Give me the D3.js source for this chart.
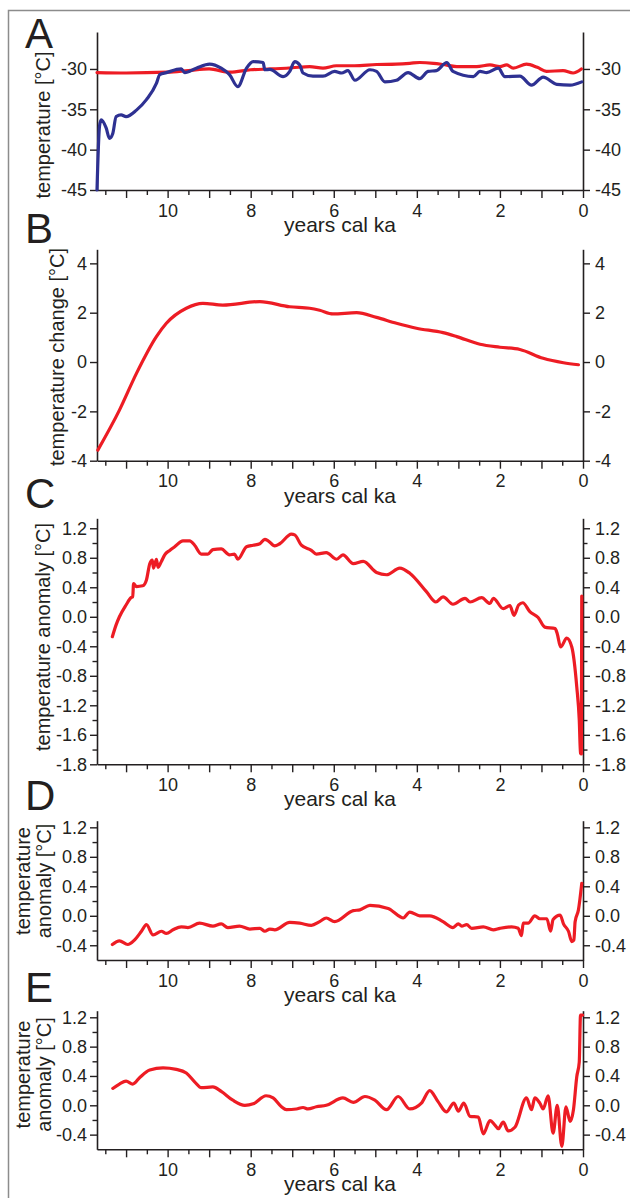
<!DOCTYPE html>
<html>
<head>
<meta charset="utf-8">
<script src="https://cdn.jsdelivr.net/npm/d3@7"></script>
<style>
  html, body { margin: 0; padding: 0; background: #fff; }
  svg { display: block; font-family: "Liberation Sans", Arial, sans-serif; }
</style>
</head>
<body>
<svg id="chart" width="630" height="1198"></svg>
<script>
// ---------- data (years cal ka, value) ----------
const xDomain = [11.7, 0];
const xMajorTicks = [11, 10, 9, 8, 7, 6, 5, 4, 3, 2, 1, 0];
const xMinorTicks = [11.5, 10.5, 9.5, 8.5, 7.5, 6.5, 5.5, 4.5, 3.5, 2.5, 1.5, 0.5];
const xLabelTicks = [10, 8, 6, 4, 2, 0];
const xTitle = "years cal ka";

// Panel A: temperature [°C]
const aRed = [[11.7,-30.45],[11.0,-30.5],[10.0,-30.4],[9.5,-30.2],[9.0,-30.0],[8.5,-30.4],[8.0,-30.1],[7.5,-30.0],[7.0,-29.85],[6.58,-29.7],[6.26,-29.9],[5.94,-29.6],[5.5,-29.6],[4.97,-29.45],[4.5,-29.4],[4.17,-29.3],[3.93,-29.2],[3.6,-29.3],[3.37,-29.45],[3.04,-29.7],[2.56,-29.7],[2.24,-29.5],[2.0,-29.7],[1.84,-29.5],[1.68,-29.9],[1.36,-29.4],[1.1,-29.8],[0.88,-30.3],[0.48,-30.2],[0.24,-30.5],[0.04,-30.0]];
const aBlue = [[11.7,-45],[11.64,-37.1],[11.6,-36.3],[11.48,-37.3],[11.4,-38.6],[11.32,-38.0],[11.24,-35.9],[11.12,-35.7],[11.0,-35.9],[10.75,-35.1],[10.51,-33.8],[10.27,-31.8],[10.19,-30.7],[10.03,-30.45],[9.67,-30.0],[9.59,-30.45],[9.31,-29.9],[8.99,-29.4],[8.71,-29.9],[8.51,-30.7],[8.31,-32.2],[8.1,-29.9],[7.94,-29.1],[7.70,-29.2],[7.66,-30.1],[7.54,-30.05],[7.22,-30.95],[7.06,-30.3],[6.94,-29.1],[6.82,-29.5],[6.74,-30.5],[6.5,-30.9],[6.26,-30.9],[5.98,-30.3],[5.81,-30.5],[5.66,-30.2],[5.49,-31.4],[5.13,-30.1],[4.97,-30.3],[4.77,-31.6],[4.49,-31.4],[4.21,-30.45],[3.93,-31.2],[3.73,-30.3],[3.53,-30.2],[3.28,-29.2],[3.13,-30.3],[2.64,-30.95],[2.48,-30.3],[2.32,-30.45],[2.04,-29.9],[1.88,-30.95],[1.52,-30.9],[1.24,-32.0],[0.96,-31.0],[0.63,-31.9],[0.31,-32.0],[0.03,-31.6]];
const aTicks = [-45, -40, -35, -30];

// Panel B: temperature change [°C]
const bRed = [[11.68,-3.57],[11.16,-1.95],[10.75,-0.46],[10.27,1.03],[10.03,1.57],[9.55,2.18],[9.15,2.38],[8.67,2.31],[7.78,2.45],[7.06,2.24],[6.58,2.18],[6.34,2.1],[6.02,1.95],[5.45,2.0],[4.97,1.81],[4.49,1.57],[4.01,1.37],[3.37,1.19],[3.04,1.03],[2.48,0.72],[2.0,0.6],[1.52,0.51],[0.96,0.15],[0.47,-0.03],[0.11,-0.11]];
const bTicks = [-4, -2, 0, 2, 4];

// Panel C: temperature anomaly [°C]
const cRed = [[11.33,-0.27],[11.24,-0.11],[11.16,0.0],[11.0,0.16],[10.88,0.26],[10.84,0.27],[10.82,0.45],[10.75,0.41],[10.6,0.42],[10.51,0.5],[10.43,0.72],[10.37,0.77],[10.34,0.66],[10.27,0.78],[10.23,0.67],[10.15,0.75],[10.07,0.84],[9.95,0.9],[9.83,0.95],[9.63,1.03],[9.47,1.03],[9.35,0.97],[9.19,0.85],[9.03,0.85],[8.91,0.91],[8.71,0.92],[8.51,0.84],[8.39,0.85],[8.31,0.78],[8.1,0.95],[7.94,0.97],[7.78,0.99],[7.66,1.05],[7.58,1.03],[7.42,0.96],[7.30,0.99],[7.02,1.12],[6.94,1.11],[6.78,0.97],[6.54,0.9],[6.42,0.85],[6.18,0.87],[5.93,0.78],[5.78,0.84],[5.53,0.72],[5.29,0.75],[4.97,0.6],[4.73,0.57],[4.41,0.66],[4.17,0.59],[3.77,0.34],[3.54,0.2],[3.37,0.27],[3.13,0.17],[2.84,0.25],[2.72,0.2],[2.44,0.26],[2.24,0.18],[2.16,0.25],[1.92,0.11],[1.76,0.15],[1.66,0.02],[1.55,0.16],[1.45,0.19],[1.28,0.07],[1.08,-0.01],[0.92,-0.14],[0.67,-0.16],[0.62,-0.23],[0.54,-0.41],[0.39,-0.29],[0.27,-0.41],[0.15,-0.95],[0.09,-1.4],[0.06,-1.85],[0.04,-1.86],[0.03,0.28]];
const cTicks = [1.2, 0.8, 0.4, 0.0, -0.4, -0.8, -1.2, -1.6, -2.0];
const cTickLabels = ["1.2", "0.8", "0.4", "0.0", "-0.4", "-0.8", "-1.2", "-1.6", "-1.8"];
const cMinor = [1.0, 0.6, 0.2, -0.2, -0.6, -1.0, -1.4, -1.8];

// Panel D: temperature anomaly [°C]
const dRed = [[11.33,-0.39],[11.16,-0.34],[10.96,-0.39],[10.8,-0.33],[10.63,-0.21],[10.51,-0.12],[10.35,-0.26],[10.15,-0.21],[10.03,-0.24],[9.87,-0.19],[9.67,-0.15],[9.51,-0.16],[9.23,-0.10],[8.91,-0.14],[8.71,-0.11],[8.55,-0.16],[8.27,-0.14],[8.02,-0.18],[7.78,-0.17],[7.66,-0.21],[7.54,-0.18],[7.42,-0.19],[7.06,-0.09],[6.82,-0.10],[6.54,-0.13],[6.34,-0.08],[6.18,-0.03],[5.98,-0.08],[5.53,0.07],[5.37,0.08],[5.13,0.14],[4.69,0.10],[4.41,-0.01],[4.33,-0.03],[4.17,0.05],[3.93,0.0],[3.69,0.0],[3.37,-0.08],[3.13,-0.16],[3.0,-0.11],[2.92,-0.14],[2.80,-0.12],[2.68,-0.17],[2.40,-0.15],[2.16,-0.19],[2.0,-0.17],[1.72,-0.15],[1.56,-0.17],[1.48,-0.27],[1.44,-0.1],[1.32,-0.10],[1.16,0.0],[1.04,-0.04],[0.87,-0.04],[0.78,-0.21],[0.72,-0.05],[0.55,0.01],[0.47,-0.11],[0.35,-0.21],[0.27,-0.35],[0.22,-0.33],[0.19,-0.08],[0.11,0.08],[0.03,0.44]];
// Panel E: temperature anomaly [°C]
const eRed = [[11.32,0.23],[11.16,0.29],[11.0,0.33],[10.84,0.29],[10.67,0.38],[10.43,0.48],[10.11,0.51],[9.79,0.49],[9.55,0.44],[9.35,0.32],[9.19,0.24],[8.91,0.25],[8.71,0.19],[8.43,0.07],[8.14,0.0],[7.94,0.02],[7.63,0.13],[7.46,0.10],[7.26,-0.02],[7.14,-0.06],[6.90,-0.05],[6.74,-0.03],[6.62,-0.05],[6.42,-0.02],[6.18,0.0],[5.78,0.1],[5.53,0.04],[5.25,0.12],[5.01,0.07],[4.73,-0.06],[4.45,0.12],[4.17,-0.05],[3.89,0.03],[3.69,0.20],[3.49,0.05],[3.29,-0.09],[3.11,0.03],[3.0,-0.08],[2.87,0.03],[2.72,-0.15],[2.52,-0.16],[2.40,-0.39],[2.24,-0.21],[2.12,-0.27],[2.04,-0.32],[1.92,-0.23],[1.80,-0.35],[1.64,-0.3],[1.36,0.1],[1.24,-0.06],[1.16,0.1],[1.04,0.03],[0.96,-0.05],[0.84,0.13],[0.72,-0.38],[0.62,0.0],[0.51,-0.56],[0.41,-0.02],[0.31,-0.22],[0.23,-0.06],[0.15,0.39],[0.09,0.59],[0.06,1.23],[0.01,1.23]];
const deTicks = [1.2, 0.8, 0.4, 0.0, -0.4];
const deTickLabels = ["1.2", "0.8", "0.4", "0.0", "-0.4"];
const deMinor = [1.0, 0.6, 0.2, -0.2];

// ---------- styling ----------
const RED = "#ed1c24", BLUE = "#2e3192", INK = "#231f20";
const plotLeft = 97, plotRight = 583;

const panels = [
  { letter: "A", letterY: 48, top: 32, bottom: 190, domain: [-45, -25.42],
    ticks: aTicks, labels: aTicks.map(String), minor: [],
    title: [["temperature [°C]", 50]], titleY: 125,
    series: [[aRed, RED], [aBlue, BLUE]] },
  { letter: "B", letterY: 243, top: 249.3, bottom: 460.7, domain: [-4, 4.57],
    ticks: bTicks, labels: bTicks.map(String), minor: [],
    title: [["temperature change [°C]", 64]], titleY: 357,
    series: [[bRed, RED]] },
  { letter: "C", letterY: 508, top: 518.3, bottom: 764.3, domain: [-2.0, 1.335],
    ticks: cTicks, labels: cTickLabels, minor: cMinor,
    title: [["temperature anomaly [°C]", 50]], titleY: 637,
    series: [[cRed, RED]] },
  { letter: "D", letterY: 810, top: 820.7, bottom: 960, domain: [-0.6, 1.29],
    ticks: deTicks, labels: deTickLabels, minor: deMinor,
    title: [["temperature", 30], ["anomaly [°C]", 51]], titleY: 881,
    series: [[dRed, RED]] },
  { letter: "E", letterY: 1002, top: 1010.7, bottom: 1149.3, domain: [-0.6, 1.29],
    ticks: deTicks, labels: deTickLabels, minor: deMinor,
    title: [["temperature", 30], ["anomaly [°C]", 51]], titleY: 1074.5,
    series: [[eRed, RED]] }
];

const svg = d3.select("#chart");
svg.append("rect").attr("width", 630).attr("height", 1198).attr("fill", "#fff");

// outer frame (left and top edges visible)
svg.append("path").attr("d", "M8.5,1198 V10.5 H630")
  .attr("fill", "none").attr("stroke", "#8c8c8c").attr("stroke-width", 1.5);

const x = d3.scaleLinear().domain(xDomain).range([plotLeft, plotRight]);

function styleAxis(g) {
  g.selectAll("path.domain").attr("stroke", INK).attr("stroke-width", 1.6);
  g.selectAll(".tick line").attr("stroke", INK).attr("stroke-width", 1.4);
  g.selectAll(".tick text").attr("fill", INK)
    .style("font-size", "18px").style("font-family", "'Liberation Sans', Arial, sans-serif");
}

panels.forEach(p => {
  const y = d3.scaleLinear().domain(p.domain).range([p.bottom, p.top]);
  const g = svg.append("g");
  const fmt = v => p.labels[p.ticks.indexOf(v)];

  // y axes left & right
  const yl = g.append("g").attr("transform", `translate(${plotLeft},0)`)
    .call(d3.axisLeft(y).tickValues(p.ticks).tickFormat(fmt).tickSize(7).tickSizeOuter(0).tickPadding(3));
  styleAxis(yl);
  const yr = g.append("g").attr("transform", `translate(${plotRight},0)`)
    .call(d3.axisRight(y).tickValues(p.ticks).tickFormat(fmt).tickSize(7).tickSizeOuter(0).tickPadding(5));
  styleAxis(yr);
  if (p.minor.length) {
    const ml = g.append("g").attr("transform", `translate(${plotLeft},0)`)
      .call(d3.axisLeft(y).tickValues(p.minor).tickFormat("").tickSize(4.5).tickSizeOuter(0));
    styleAxis(ml); ml.select("path.domain").remove();
    const mr = g.append("g").attr("transform", `translate(${plotRight},0)`)
      .call(d3.axisRight(y).tickValues(p.minor).tickFormat("").tickSize(4.5).tickSizeOuter(0));
    styleAxis(mr); mr.select("path.domain").remove();
  }

  // x axis
  const xa = g.append("g").attr("transform", `translate(0,${p.bottom})`)
    .call(d3.axisBottom(x).tickValues(xMajorTicks)
      .tickFormat(v => xLabelTicks.includes(v) ? String(v) : "")
      .tickSize(8).tickSizeOuter(0).tickPadding(6));
  styleAxis(xa);
  const xm = g.append("g").attr("transform", `translate(0,${p.bottom})`)
    .call(d3.axisBottom(x).tickValues(xMinorTicks).tickFormat("").tickSize(5).tickSizeOuter(0));
  styleAxis(xm); xm.select("path.domain").remove();

  // x title
  g.append("text").attr("x", (plotLeft + plotRight) / 2).attr("y", p.bottom + 42)
    .attr("text-anchor", "middle").attr("fill", INK)
    .style("font-size", "21px").text(xTitle);

  // y title(s)
  p.title.forEach(([t, bx]) => {
    g.append("text").attr("transform", `translate(${bx},${p.titleY}) rotate(-90)`)
      .attr("text-anchor", "middle").attr("fill", INK)
      .style("font-size", "20px").text(t);
  });

  // panel letter
  g.append("text").attr("x", 25).attr("y", p.letterY).attr("fill", INK)
    .style("font-size", "42px").text(p.letter);

  // series
  const line = d3.line().x(d => x(d[0])).y(d => y(d[1])).curve(d3.curveMonotoneX);
  p.series.forEach(([data, color]) => {
    g.append("path").datum(data).attr("d", line)
      .attr("fill", "none").attr("stroke", color).attr("stroke-width", 3.2)
      .attr("stroke-linejoin", "round").attr("stroke-linecap", "round");
  });
});
</script>
</body>
</html>
